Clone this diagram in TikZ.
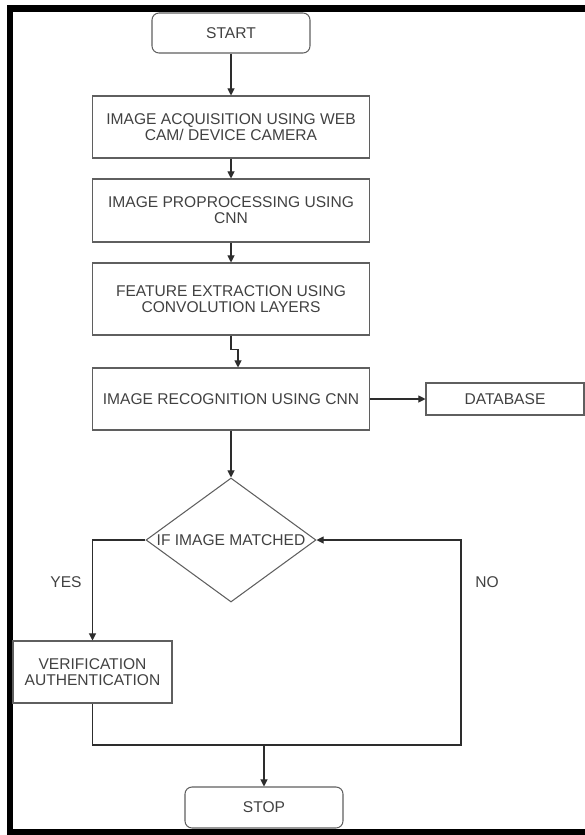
\documentclass[tikz,border=0pt]{standalone}
\usepackage{fontspec}
\setmainfont{Liberation Sans}
\usepackage{tikz}
\usetikzlibrary{arrows.meta,positioning,calc,shapes.geometric}
\definecolor{boxgray}{RGB}{95,95,95}
\definecolor{textgray}{RGB}{65,65,65}
\definecolor{wiregray}{RGB}{45,45,45}

\begin{document}
\begin{tikzpicture}[
    x=0.03cm, y=-0.03cm,
    box/.style={draw=boxgray, line width=0.9pt, rectangle, minimum width=8.31cm, minimum height=1.86cm,
                font=\fontsize{13.3}{13.6}\selectfont, text=textgray, align=center, inner sep=2pt},
    terminal/.style={box, rounded corners=6pt, minimum width=4.74cm, minimum height=1.2cm},
    decision/.style={draw=boxgray, line width=0.9pt, diamond, minimum width=5.1cm, minimum height=3.72cm,
                inner sep=0pt, label={[font=\fontsize{13.3}{13.6}\selectfont, text=textgray]center:IF IMAGE MATCHED}},
    tag/.style={font=\fontsize{13.3}{13.6}\selectfont, text=textgray},
    flow/.style={draw=wiregray, line width=0.9pt, -{Triangle[length=6pt,width=6pt]}},
    >=Stealth
]
\useasboundingbox (0,0) rectangle (585,835);
% frame
\draw[line width=5.5pt, line join=miter] (585,8.5) -- (10,8.5) -- (10,832.5) -- (585,832.5);

\node[terminal] (start) at (231,33) {START};
\node[box] (acq) at (231,127) {IMAGE ACQUISITION USING WEB\\CAM/ DEVICE CAMERA};
\node[box, minimum height=1.89cm] (pre) at (231,210.5) {IMAGE PROPROCESSING USING\\CNN};
\node[box, minimum height=2.16cm] (feat) at (231,299) {FEATURE EXTRACTION USING\\CONVOLUTION LAYERS};
\node[box] (recog) at (231,399) {IMAGE RECOGNITION USING CNN};
\node[box, minimum width=4.74cm, minimum height=0.96cm] (db) at (505,399) {DATABASE};
\node[decision] (match) at (231,540) {};
\node[box, minimum width=4.77cm] (verif) at (92.5,672) {VERIFICATION\\AUTHENTICATION};
\node[terminal, minimum height=1.23cm] (stop) at (264,807.5) {STOP};

\node[tag] (yes) at (66,582) {YES};
\node[tag] (no) at (487,582) {NO};

\coordinate (join) at (461,745);

\draw[flow] (start) -- (acq);
\draw[flow] (acq) -- (pre);
\draw[flow] (pre) -- (feat);
\draw[flow] (feat.south) -- ++(0,14) -| ($(recog.north)+(7,0)$);
\draw[flow] (recog.east) -- (db.west);
\draw[flow] (recog.south) -- (match.north);
\draw[flow] (match.west) -| (verif.north);
\draw[flow] (verif.south) |- (join) |- (match.east);
\draw[flow] (stop.north |- join) -- (stop.north);
\end{tikzpicture}
\end{document}
